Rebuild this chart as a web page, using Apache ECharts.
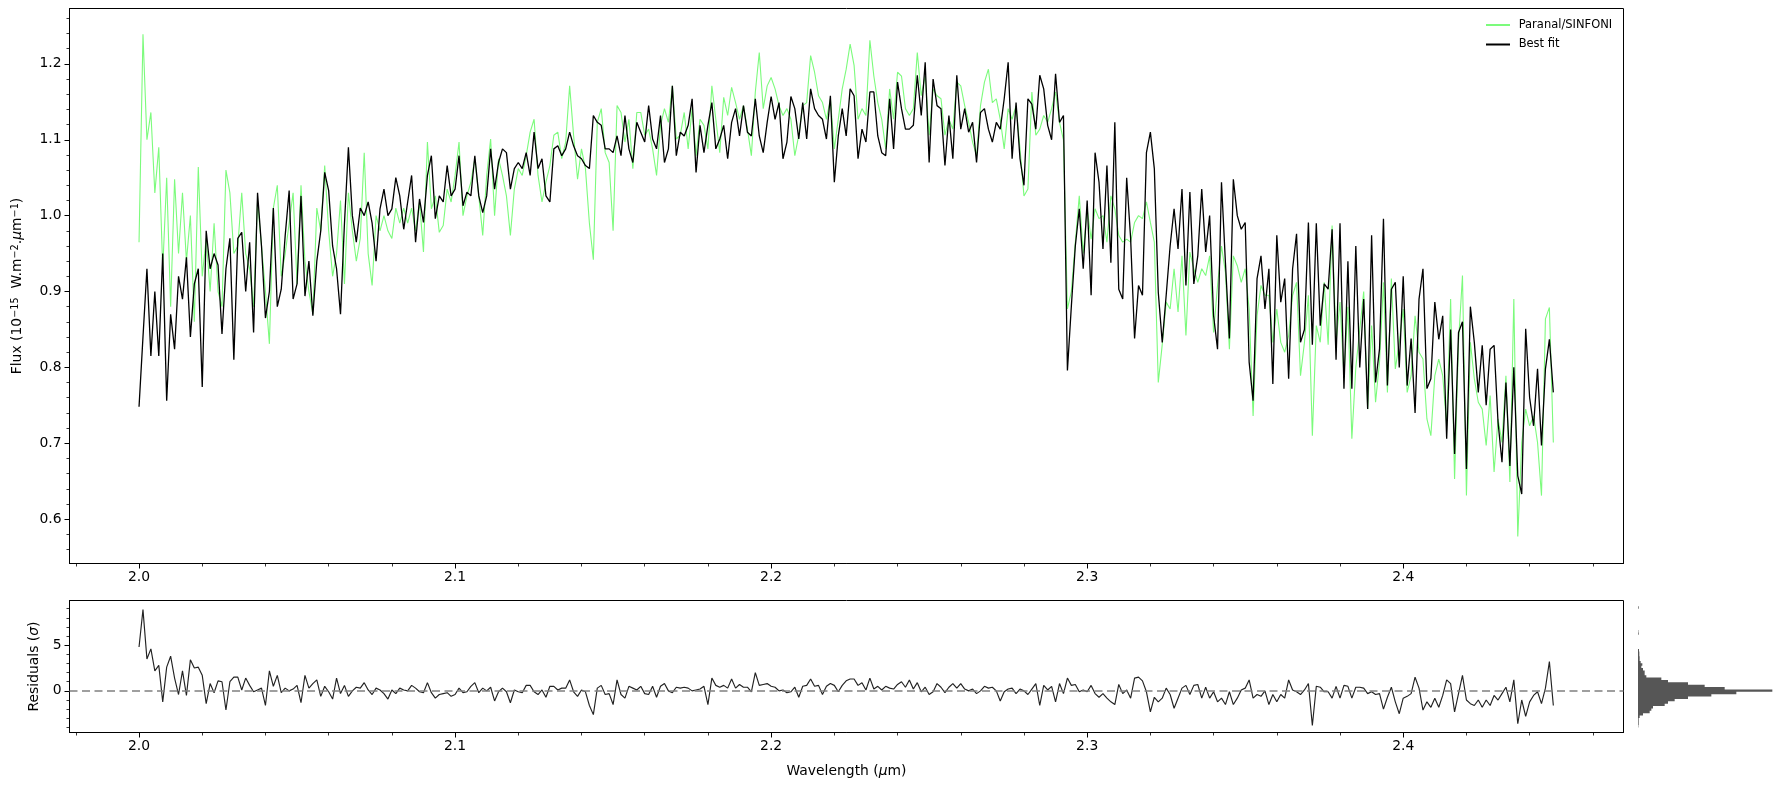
<!DOCTYPE html>
<html>
<head>
<meta charset="utf-8">
<script src="https://cdn.jsdelivr.net/npm/echarts@6.0.0/dist/echarts.min.js"></script>
<style>
html,body{margin:0;padding:0;background:#fff;}
#chart{width:1789px;height:789px;}
</style>
</head>
<body>
<div id="chart"></div>
<script>
// ---- Data ----
const wavelengthStart = 2.0;      // micron, first sample
const wavelengthStep = 0.00125;   // micron, sampling of the arrays below

const sinfoniFlux = [
0.965,1.239,1.10,1.136,1.03,1.09,0.93,1.05,0.88,1.048,
0.95,1.03,0.94,1.00,0.86,1.064,0.92,0.97,0.90,0.99,
0.90,0.88,1.06,1.03,0.95,0.96,1.03,0.95,0.93,0.88,
1.02,0.96,0.90,0.831,1.01,1.04,0.92,0.95,0.99,1.03,
0.91,1.04,0.94,0.90,0.87,1.01,0.98,1.066,0.98,0.92,
0.95,1.02,0.91,1.03,0.98,0.94,0.97,1.083,0.95,0.908,
1.0,0.98,1.00,0.98,0.97,1.01,0.99,1.01,0.99,1.01,
0.98,
1.018,0.952,1.097,1.009,1.026,0.978,0.987,1.035,1.018,1.053,
1.097,1.00,1.026,1.044,1.075,1.026,0.974,1.053,1.101,1.00,
1.075,1.053,1.026,0.974,1.035,1.062,1.053,1.079,1.11,1.127,
1.053,1.018,1.044,1.066,1.106,1.11,1.075,1.097,1.171,1.106,
1.048,1.088,1.062,0.99,0.942,1.123,1.141,1.083,1.07,0.98,
1.145,1.136,1.097,1.127,1.062,1.136,1.136,1.106,1.114,1.088,
1.053,1.119,1.141,1.123,1.171,1.101,1.106,1.136,1.088,1.141,
1.079,1.127,1.119,1.088,1.171,1.127,1.083,
1.156,1.132,1.169,1.149,1.127,1.145,1.114,1.079,1.163,1.215,
1.141,1.171,1.182,1.167,1.145,1.132,1.141,1.127,1.079,1.106,
1.145,1.149,1.211,1.189,1.158,1.149,1.127,1.154,1.088,1.127,
1.167,1.193,1.226,1.198,1.127,1.141,1.132,1.231,1.184,1.149,
1.127,1.088,1.167,1.127,1.189,1.184,1.141,1.132,1.141,1.215,
1.158,1.184,1.106,1.167,1.158,1.154,1.106,1.127,1.114,1.176,
1.171,1.145,1.123,1.097,1.079,1.145,1.176,1.193,1.149,1.154,
1.127,1.088,1.141,1.127,1.145,
1.088,1.026,1.035,1.163,1.106,1.114,1.132,1.123,1.141,1.163,
1.123,1.10,0.877,0.9,0.965,1.026,0.95,1.009,0.969,1.009,
0.996,1.0,0.965,1.026,1.009,0.974,0.965,0.969,0.965,0.991,
1.0,0.996,1.018,0.991,0.965,0.78,0.83,0.886,0.877,0.93,
0.873,0.947,0.842,0.952,0.93,0.912,0.93,0.921,0.947,0.846,
0.908,0.96,0.925,0.824,0.947,0.934,0.912,0.93,0.877,0.736,
0.868,0.908,0.895,0.895,0.833,0.877,0.833,0.82,0.842,0.895,
0.912,0.789,0.833,0.895,0.71,0.855,0.833,
0.912,0.83,0.987,0.833,0.886,0.789,0.88,0.706,0.80,0.85,
0.90,0.745,0.855,0.754,0.807,0.912,0.767,0.917,0.798,0.833,
0.877,0.767,0.789,0.868,0.82,0.811,0.732,0.71,0.789,0.811,
0.789,0.723,0.89,0.653,0.833,0.921,0.631,0.833,0.785,0.754,
0.745,0.697,0.763,0.662,0.732,0.701,0.789,0.649,0.89,0.577,
0.701,0.745,0.723,0.736,0.701,0.631,0.864,0.879,0.701
];

const bestFitFlux = [
0.748,0.84,0.93,0.815,0.90,0.815,0.95,0.756,0.87,0.824,
0.92,0.89,0.945,0.84,0.91,0.93,0.774,0.98,0.93,0.95,
0.935,0.844,0.93,0.97,0.81,0.97,0.978,0.90,0.965,0.846,
1.03,0.96,0.865,0.90,1.01,0.88,0.903,0.974,1.033,0.89,
0.91,1.026,0.894,0.94,0.868,0.94,0.98,1.057,1.033,0.96,
0.93,0.87,0.99,1.09,1.0,0.965,1.01,1.0,1.018,0.99,
0.94,1.009,1.035,1.0,1.009,1.05,1.026,0.982,1.018,1.053,
0.965,
1.022,0.991,1.053,1.079,0.996,1.026,1.018,1.066,1.026,1.035,
1.079,1.013,1.031,1.026,1.079,1.026,1.004,1.026,1.088,1.035,
1.07,1.088,1.083,1.035,1.062,1.07,1.062,1.083,1.053,1.11,
1.062,1.075,1.026,1.018,1.088,1.092,1.079,1.088,1.11,1.092,
1.079,1.075,1.066,1.062,1.132,1.123,1.119,1.088,1.088,1.083,
1.105,1.079,1.132,1.088,1.07,1.123,1.11,1.097,1.145,1.101,
1.088,1.132,1.07,1.088,1.171,1.079,1.11,1.105,1.119,1.154,
1.057,1.119,1.083,1.119,1.149,1.088,1.101,
1.119,1.075,1.123,1.141,1.105,1.145,1.11,1.105,1.154,1.105,
1.083,1.123,1.157,1.127,1.149,1.075,1.097,1.157,1.141,1.101,
1.149,1.101,1.167,1.141,1.132,1.127,1.101,1.158,1.044,1.105,
1.141,1.105,1.167,1.158,1.075,1.114,1.097,1.163,1.163,1.105,
1.083,1.079,1.154,1.088,1.176,1.141,1.114,1.114,1.119,1.185,
1.132,1.202,1.07,1.18,1.145,1.141,1.066,1.132,1.075,1.185,
1.114,1.141,1.11,1.123,1.07,1.136,1.141,1.114,1.097,1.123,
1.114,1.154,1.202,1.075,1.149,
1.075,1.040,1.154,1.147,1.114,1.185,1.167,1.119,1.10,1.187,
1.123,1.132,0.796,0.881,0.96,1.009,0.93,1.02,0.895,1.083,
1.044,0.956,1.066,0.938,1.123,0.903,0.89,1.05,0.97,0.838,
0.908,0.895,1.083,1.11,1.062,0.899,0.833,0.895,0.96,1.009,
0.956,1.035,0.908,1.031,0.91,0.947,1.035,0.952,1.0,0.868,
0.824,1.044,0.938,0.838,1.048,1.0,0.982,0.991,0.807,0.756,
0.917,0.947,0.877,0.93,0.778,0.974,0.886,0.917,0.785,0.93,
0.976,0.833,0.85,0.991,0.83,0.99,0.855,
0.91,0.903,0.982,0.81,0.99,0.772,0.94,0.772,0.96,0.80,
0.89,0.745,0.974,0.78,0.824,0.996,0.776,0.903,0.912,0.80,
0.92,0.776,0.838,0.74,0.89,0.93,0.772,0.785,0.886,0.837,
0.868,0.706,0.85,0.686,0.846,0.86,0.666,0.88,0.833,0.767,
0.829,0.75,0.824,0.829,0.728,0.675,0.78,0.67,0.80,0.657,
0.633,0.851,0.76,0.723,0.798,0.697,0.798,0.837,0.767
];

const residuals = [
4.8,8.9,3.5,4.6,2.2,2.8,-1.2,2.6,3.8,1.4,
-0.4,2.2,-0.5,3.4,2.5,2.6,1.7,-1.4,0.8,-0.2,
1.1,1.0,-2.1,1.0,1.5,1.5,0.1,1.4,0.6,-0.1,
0.1,0.3,-1.6,2.2,0.5,1.7,-0.2,0.3,0,0.2,
0.6,-1.3,1.7,0.3,0.8,1.2,-0.6,0.5,-0.1,-0.9,
1.4,-0.3,0.6,-0.6,0,0.4,0.3,0.9,0.1,-0.4,
0.3,0.1,-0.3,-0.9,0.1,-0.3,0.3,0.1,0,0.6,
0.3,-0.1,-0.2,0.9,-0.2,-0.8,-0.4,-0.3,-0.2,-0.6,
-0.4,0.3,-0.2,-0.1,0.5,0.9,-0.2,0.3,0,0.4,
-1.1,-0.1,0.3,-0.1,-1.3,0.1,-0.1,-0.2,0.6,0.6,
-0.1,-0.4,0.1,-0.7,0.5,0.5,0.1,0.3,0.3,1.2,
-0.1,-0.6,0.1,-0.1,-1.6,-2.6,0.3,0.6,-0.4,-0.3,
-1.5,1.2,-0.4,-0.8,0.5,0.3,0.1,0.5,-0.3,-0.4,
0.5,-0.7,0.5,0.8,0,-0.2,0.4,0.3,0.4,0.3,
0,0.1,0.2,0.5,-1.5,1.4,0.6,0.4,0.6,0.3,
1.3,0.3,0.7,0.4,0.4,-0.1,2.0,0.6,0.7,0.8,
0.5,0.4,0,0.1,-0.2,-0.1,0.4,-0.7,0.5,0.6,
1.3,0.5,0.6,-0.4,0.5,0.8,0.6,-0.1,0.6,1.1,
1.3,1.3,0.6,0.9,0.1,1.4,0.2,0.5,0.1,0.5,
0.3,0.2,0.7,1.0,0.4,1.2,0.2,0.9,-0.1,0.4,
-0.4,-0.1,0.8,0.4,-0.2,0.4,0.8,0.3,0.8,0.2,
0,0.2,-0.3,0,0.5,0.3,0.4,0,-1.1,-0.1,
0.2,0.3,-0.3,0.2,0,-0.4,0.2,0.8,-1.6,0.6,
0.1,0.5,-1.2,0.8,-0.3,1.4,0.6,0.7,-0.1,0.1,
-0.1,0.6,-0.3,-0.7,-0.3,-0.8,-1.2,-1.5,0.7,-0.3,
0.1,-0.8,1.4,1.5,1.1,-0.1,-2.3,-0.7,-1.2,-0.8,
0.3,-0.4,-1.9,-0.8,0.3,0.6,-0.4,0.6,0.7,-0.8,
0.4,-0.8,-0.1,-1.2,-0.8,-1.5,-0.1,-1.5,-0.8,0.1,
0.3,1.2,-0.8,-0.4,-0.6,0,-1.5,-0.4,-1.2,-0.4,
-0.8,1.2,0.1,-0.1,-0.4,0.1,0.8,-3.8,0.5,0.4,
-0.1,-0.1,-0.8,0.5,-0.8,0.6,0.5,-0.8,0.4,0.4,
0.3,-0.3,-0.1,-0.4,-0.3,-2.0,-0.7,0.4,-1.2,-2.5,
-0.8,-0.6,-0.3,1.5,0.3,-2.1,-1.2,-1.8,-0.8,-1.8,
-0.5,1.2,0.8,-2.3,-0.3,1.7,-1.0,-1.4,-1.6,-1.0,
-1.8,-1.0,-1.6,-0.5,-1.0,-0.3,0.4,-1.2,1.2,-3.6,
-1.0,-2.8,-1.2,-0.5,-0.1,-1.4,0.3,3.2,-1.6
];

// histogram of residuals (bins of width 0.26 sigma starting at -4.0 sigma)
const histBinStart = -4.0;
const histBinWidth = 0.26;
const histCounts = [
1,2,2,2,5,15,35,40,45,80,
90,110,150,220,295,403,260,200,150,90,
70,25,20,20,15,10,13,8,5,5,
4,4,3,0,0,0,0,0,0,2,
1,0,0,0,0,0,0,0,0,0,
2
];

const xTickValues = [2.0, 2.1, 2.2, 2.3, 2.4];
const fluxTickValues = [0.6, 0.7, 0.8, 0.9, 1.0, 1.1, 1.2];
const residualTickValues = [0, 5];
const seriesNames = ['Paranal/SINFONI', 'Best fit'];

// ---- Build chart ----
const FONT = 'DejaVu Sans';
const wl = i => wavelengthStart + i * wavelengthStep;
const pairs = arr => arr.map((v, i) => [wl(i), v]);
const histData = histCounts.map((c, k) => [histBinStart + k * histBinWidth, histBinStart + (k + 1) * histBinWidth, c]);

const richName = {
  t: {fontSize: 13.9, fontFamily: FONT, color: '#000', lineHeight: 14, verticalAlign: 'bottom'},
  i: {fontSize: 13.9, fontFamily: FONT, fontStyle: 'italic', color: '#000', lineHeight: 14, verticalAlign: 'bottom'},
  s: {fontSize: 9.7, fontFamily: FONT, color: '#000', lineHeight: 10, padding: [0, 0, 8, 0], verticalAlign: 'top'}
};
const richSimple = {
  t: {fontSize: 13.9, fontFamily: FONT, color: '#000'},
  i: {fontSize: 13.9, fontFamily: FONT, fontStyle: 'italic', color: '#000'}
};

function mkX(gridIndex, withName) {
  const ax = {
    gridIndex: gridIndex, type: 'value', min: 1.978, max: 2.4697,
    minInterval: 0.1, maxInterval: 0.1,
    axisLine: {show: true, onZero: false, lineStyle: {color: '#000', width: 1}},
    axisTick: {show: true, inside: false, length: 5, lineStyle: {color: '#000', width: 1}, customValues: xTickValues},
    minorTick: {show: true, splitNumber: 5, length: 3, lineStyle: {color: '#000', width: 0.8}},
    splitLine: {show: false}, minorSplitLine: {show: false},
    axisLabel: {customValues: xTickValues, formatter: v => v.toFixed(1), fontSize: 13.9, color: '#000', margin: 7, fontFamily: FONT}
  };
  if (withName) {
    ax.name = '{t|Wavelength (}{i|μ}{t|m)}';
    ax.nameLocation = 'middle';
    ax.nameGap = 32;
    ax.nameTextStyle = {rich: richSimple};
  }
  return ax;
}

const chart = echarts.init(document.getElementById('chart'), null, {renderer: 'canvas'});
chart.setOption({
  animation: false,
  backgroundColor: '#fff',
  textStyle: {fontFamily: FONT},
  grid: [
    {left: 69.5, top: 8.5, width: 1554, height: 555, show: true, borderColor: '#000', borderWidth: 1, backgroundColor: 'transparent'},
    {left: 69.5, top: 600.5, width: 1554, height: 132, show: true, borderColor: '#000', borderWidth: 1, backgroundColor: 'transparent'},
    {left: 1638, top: 600.5, width: 141, height: 132, show: false}
  ],
  xAxis: [
    mkX(0, false),
    mkX(1, true),
    {gridIndex: 2, type: 'value', min: 0, max: 423, show: false}
  ],
  yAxis: [
    {
      gridIndex: 0, type: 'value', min: 0.5415, max: 1.273,
      minInterval: 0.1, maxInterval: 0.1,
      axisLine: {show: true, onZero: false, lineStyle: {color: '#000', width: 1}},
      axisTick: {show: true, inside: false, length: 5, lineStyle: {color: '#000', width: 1}, customValues: fluxTickValues},
      minorTick: {show: true, splitNumber: 5, length: 3, lineStyle: {color: '#000', width: 0.8}},
      splitLine: {show: false}, minorSplitLine: {show: false},
      axisLabel: {customValues: fluxTickValues, formatter: v => v.toFixed(1), fontSize: 13.9, color: '#000', margin: 8, fontFamily: FONT},
      name: '{t|Flux (10}{s|−15}{t|  W.m}{s|−2}{t|.}{i|μ}{t|m}{s|−1}{t|)}',
      nameLocation: 'middle', nameRotate: 90, nameGap: 44,
      nameTextStyle: {rich: richName}
    },
    {
      gridIndex: 1, type: 'value', min: -4.56, max: 9.9,
      minInterval: 5, maxInterval: 5,
      axisLine: {show: true, onZero: false, lineStyle: {color: '#000', width: 1}},
      axisTick: {show: true, inside: false, length: 5, lineStyle: {color: '#000', width: 1}, customValues: residualTickValues},
      minorTick: {show: true, splitNumber: 5, length: 3, lineStyle: {color: '#000', width: 0.8}},
      splitLine: {show: false}, minorSplitLine: {show: false},
      axisLabel: {customValues: residualTickValues, formatter: v => String(Math.round(v)), fontSize: 13.9, color: '#000', margin: 8, fontFamily: FONT},
      name: '{t|Residuals (}{i|σ}{t|)}',
      nameLocation: 'middle', nameRotate: 90, nameGap: 27,
      nameTextStyle: {rich: richSimple}
    },
    {gridIndex: 2, type: 'value', min: -4.56, max: 9.9, show: false}
  ],
  legend: {
    data: seriesNames,
    orient: 'vertical', left: 1486, top: 18, padding: 0,
    itemWidth: 24, itemHeight: 2, itemGap: 5.5, icon: 'rect',
    formatter: n => ' ' + n,
    textStyle: {fontSize: 11.5, lineHeight: 14, color: '#000', fontFamily: FONT}
  },
  series: [
    {
      name: seriesNames[0], type: 'line', xAxisIndex: 0, yAxisIndex: 0,
      data: pairs(sinfoniFlux), symbol: 'none', showSymbol: false,
      lineStyle: {color: '#7cfb7c', width: 1.1}, itemStyle: {color: '#7cfb7c'}, z: 2
    },
    {
      name: seriesNames[1], type: 'line', xAxisIndex: 0, yAxisIndex: 0,
      data: pairs(bestFitFlux), symbol: 'none', showSymbol: false,
      lineStyle: {color: '#000', width: 1.3}, itemStyle: {color: '#000'}, z: 3
    },
    {
      name: 'Residuals', type: 'line', xAxisIndex: 1, yAxisIndex: 1,
      data: pairs(residuals), symbol: 'none', showSymbol: false,
      lineStyle: {color: '#222', width: 1.15}, itemStyle: {color: '#222'}, z: 2,
      markLine: {
        silent: true, symbol: ['none', 'none'], animation: false,
        label: {show: false},
        lineStyle: {type: [8, 4.5], color: '#808080', width: 1.6},
        data: [{yAxis: 0}]
      }
    },
    {
      // the whole histogram drawn as one stepped polygon through the axis scales
      name: 'Residual histogram', type: 'custom', xAxisIndex: 2, yAxisIndex: 2,
      data: [[0, histBinStart, 0]], encode: {x: 0, y: 1},
      renderItem: (params, api) => {
        const pts = [api.coord([0, histData[0][0]])];
        histData.forEach(d => {
          pts.push(api.coord([d[2], d[0]]));
          pts.push(api.coord([d[2], d[1]]));
        });
        pts.push(api.coord([0, histData[histData.length - 1][1]]));
        return {type: 'polygon', shape: {points: pts}, style: {fill: '#565656', stroke: null}};
      }
    }
  ]
});
</script>
</body>
</html>
